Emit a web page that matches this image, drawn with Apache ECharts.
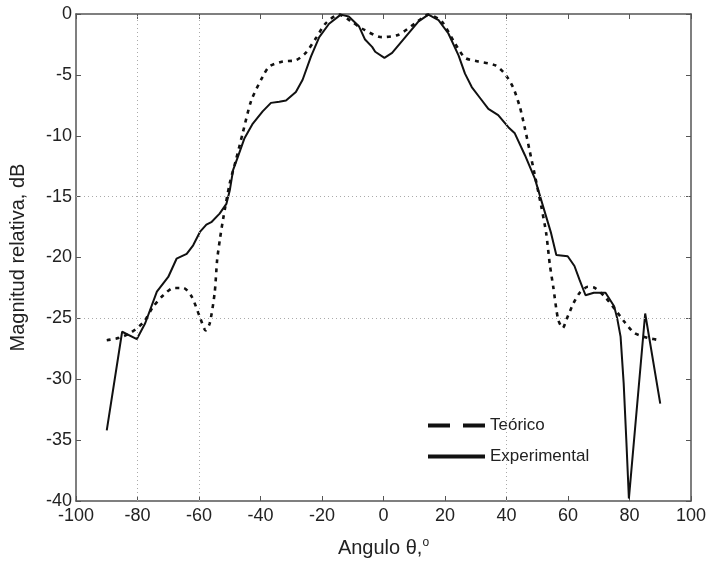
<!DOCTYPE html>
<html><head><meta charset="utf-8">
<script src="https://cdn.jsdelivr.net/npm/echarts@6/dist/echarts.min.js"></script>
<style>html,body{margin:0;padding:0;background:#fff}#c{width:711px;height:567px}</style>
</head><body><div id="c"></div>
<script>
const xTicks = [-100,-80,-60,-40,-20,0,20,40,60,80,100];
const yTicks = [0,-5,-10,-15,-20,-25,-30,-35,-40];
const gridX = [-80,-60,40];
const gridY = [-15,-25];

const teoricoX = [-90,-86,-82.3,-78,-74.8,-71.6,-68.3,-65.1,-62.4,-59.7,-57.8,-56.5,-54.9,-54.1,-53.2,-52.2,-50,-48,-45.8,-43,-39.3,-37.1,-32.8,-28.5,-25.3,-22,-18.8,-14.5,-10.5,-7,-0.5,4.9,10.3,14.6,18.9,23.2,26.5,30.8,36.2,39.4,42.1,44.3,45.9,47.5,49.1,51.3,52.9,54.1,55.2,56.8,58.3,59.5,61.7,63.8,66.5,68.7,71.9,75.1,78.4,81.6,85.9,90];
const teoricoY = [-26.8,-26.6,-26.2,-25.3,-24.0,-23.1,-22.5,-22.5,-23.2,-24.9,-26.0,-25.4,-22.9,-20.2,-18.5,-16.9,-13.9,-12.0,-9.8,-7.1,-5.15,-4.3,-3.9,-3.8,-3.2,-2.0,-0.77,-0.05,-0.6,-1.2,-1.9,-1.7,-0.77,-0.05,-0.6,-2.4,-3.6,-3.9,-4.2,-4.9,-6.0,-7.6,-9.3,-11.2,-13.1,-15.8,-18.0,-20.6,-22.4,-25.1,-25.8,-25.1,-23.8,-22.9,-22.4,-22.5,-23.2,-24.2,-25.3,-26.2,-26.6,-26.8];

const experimentalX = [-90,-85,-80.2,-77.5,-73.7,-70,-67.3,-64,-61.9,-59.7,-57.6,-56,-53.3,-51.1,-50,-48.9,-47.3,-45.2,-42.5,-39.3,-36.6,-33.9,-31.7,-28.5,-26.3,-23.6,-20.9,-17.7,-13.9,-11.3,-8,-6,-3.7,-2.7,0.3,2.8,7.1,11.4,14.6,17.9,21.1,24.4,26.5,28.7,31.4,34.1,37.3,40.6,42.7,46,49.2,51.9,54.5,56.2,59.9,62.1,63.7,65.7,68.4,72.2,75,76,77.1,78.1,79,79.8,85.1,90];
const experimentalY = [-34.2,-26.1,-26.7,-25.4,-22.8,-21.6,-20.1,-19.7,-19.0,-17.9,-17.3,-17.1,-16.4,-15.6,-14.5,-12.8,-11.7,-10.2,-9.0,-8.0,-7.3,-7.2,-7.1,-6.4,-5.4,-3.5,-1.9,-0.8,-0.05,-0.2,-1.0,-2.1,-2.7,-3.1,-3.6,-3.2,-1.9,-0.6,-0.05,-0.5,-1.6,-3.4,-4.9,-6.0,-6.9,-7.8,-8.3,-9.3,-9.8,-11.6,-13.5,-15.8,-18.0,-19.8,-19.9,-20.7,-21.8,-23.1,-22.9,-22.9,-24.0,-25.0,-26.5,-30.3,-35.2,-39.8,-24.6,-32.0];

const seriesNames = ['Teórico','Experimental'];
const xName = 'Angulo θ,';
const yName = 'Magnitud relativa, dB';

const zip = (a,b) => a.map((v,i)=>[v,b[i]]);
const FONT = 'Liberation Sans, Arial, sans-serif';
const axisCol = '#555';

const chart = echarts.init(document.getElementById('c'), null, {renderer:'canvas'});
const baseX = {
  type:'value', min:-100, max:100, interval:20,
  axisLine:{show:true,onZero:false,lineStyle:{color:axisCol,width:1.5}},
  axisTick:{show:true,inside:true,length:5,lineStyle:{color:axisCol}},
  splitLine:{show:false}
};
const baseY = {
  type:'value', min:-40, max:0, interval:5,
  axisLine:{show:true,onZero:false,lineStyle:{color:axisCol,width:1.5}},
  axisTick:{show:true,inside:true,length:5,lineStyle:{color:axisCol}},
  splitLine:{show:false}
};
chart.setOption({
  animation:false,
  backgroundColor:'#fff',
  grid:{left:72,right:20,top:14,bottom:66,containLabel:false},
  xAxis:[
    Object.assign({}, baseX, {position:'bottom',
      name:'{a|'+xName+'}{s|o}', nameLocation:'middle', nameGap:36,
      nameTextStyle:{rich:{a:{fontFamily:FONT,fontSize:20,color:'#222'},s:{fontFamily:FONT,fontSize:12,color:'#222',verticalAlign:'top',padding:[0,0,10,0]}}},
      axisLabel:{fontFamily:FONT,fontSize:18,color:'#222',margin:6}}),
    Object.assign({}, baseX, {position:'top',axisLabel:{show:false}})
  ],
  yAxis:[
    Object.assign({}, baseY, {position:'left',
      name:yName, nameLocation:'middle', nameGap:48,
      nameTextStyle:{fontFamily:FONT,fontSize:20,color:'#222'},
      axisLabel:{fontFamily:FONT,fontSize:18,color:'#222',margin:4}}),
    Object.assign({}, baseY, {position:'right',axisLabel:{show:false}})
  ],
  legend:{
    orient:'vertical', left:421, top:412, itemWidth:57, itemHeight:14, itemGap:14,
    textStyle:{fontFamily:FONT,fontSize:17,color:'#222'},
    itemStyle:{opacity:0},
    data:[
      {name:seriesNames[0], itemStyle:{opacity:0}, lineStyle:{type:[22,13],width:4,color:'#111'}},
      {name:seriesNames[1], itemStyle:{opacity:0}, lineStyle:{type:'solid',width:4,color:'#111'}}
    ]
  },
  series:[
    {
      name:seriesNames[0], type:'line', data:zip(teoricoX,teoricoY),
      symbol:'none', smooth:0.25,
      lineStyle:{color:'#111',width:2.6,type:[4,5]},
      itemStyle:{color:'#111'},
      markLine:{silent:true,symbol:'none',label:{show:false},
        lineStyle:{color:'#aaa',width:1,type:[1,3]},
        data: gridX.map(v=>({xAxis:v})).concat(gridY.map(v=>({yAxis:v})))}
    },
    {
      name:seriesNames[1], type:'line', data:zip(experimentalX,experimentalY),
      symbol:'none', smooth:false,
      lineStyle:{color:'#111',width:2},
      itemStyle:{color:'#111'}
    }
  ]
});
</script></body></html>
